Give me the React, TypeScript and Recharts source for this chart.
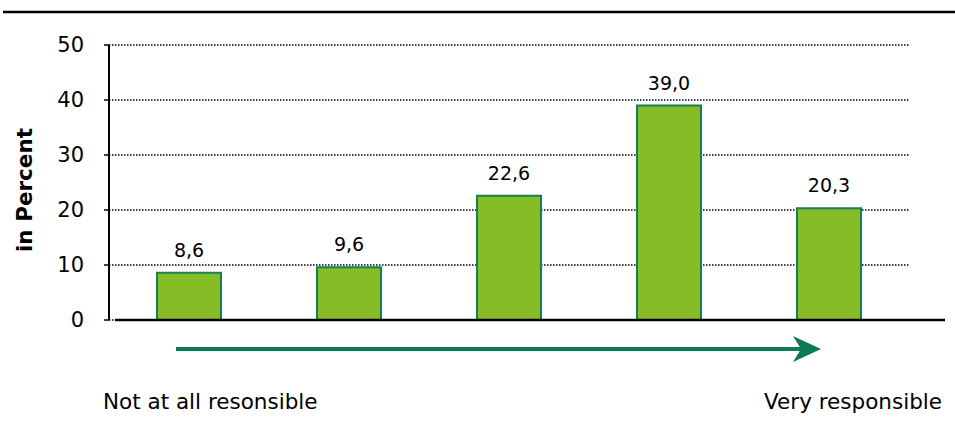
import React from "react";
import { BarChart, Bar, XAxis, YAxis, CartesianGrid, LabelList } from "recharts";

// categories on the responsibility scale (1 = not at all, 5 = very)
const categories = ["1", "2", "3", "4", "5"];
const shares = [8.6, 9.6, 22.6, 39.0, 20.3];
const yTicks = [0, 10, 20, 30, 40, 50];
const leftCaption = "Not at all resonsible";
const rightCaption = "Very responsible";

const data = categories.map((c, i) => ({ name: c, value: shares[i] }));

const fmt = (v: any) => Number(v).toFixed(1).replace(".", ",");

const FONT = "'DejaVu Sans', Verdana, sans-serif";
const ARROW = "#0B7A55";

export default function App() {
  return (
    <div
      style={{
        position: "absolute",
        left: 0,
        top: 0,
        width: 955,
        height: 432,
        fontFamily: FONT,
        background: "#fff",
      }}
    >
      <BarChart
        width={955}
        height={432}
        data={data}
        margin={{ top: 45, right: 46, bottom: 112, left: 60 }}
        barCategoryGap="30%"
      >
        <CartesianGrid
          vertical={false}
          stroke="#000"
          strokeDasharray="1.5 1.5"
          strokeWidth={1.6}
        />
        <XAxis dataKey="name" hide />
        <YAxis
          width={49}
          domain={[0, 50]}
          ticks={yTicks}
          interval={0}
          axisLine={{ stroke: "#000", strokeWidth: 2 }}
          tickLine={{ stroke: "#000", strokeWidth: 1.5 }}
          tickSize={5}
          tickMargin={20}
          tick={{ fill: "#000", fontSize: 21, fontFamily: FONT }}
          label={{
            content: () => (
              <text
                transform="translate(32,190) rotate(-90)"
                textAnchor="middle"
                fontSize={21.5}
                fontWeight="bold"
                fontFamily={FONT}
                fill="#000"
              >
                in Percent
              </text>
            ),
          }}
        />
        <Bar
          dataKey="value"
          fill="#86BC25"
          stroke="#157F55"
          strokeWidth={2}
          isAnimationActive={false}
        >
          <LabelList
            dataKey="value"
            position="top"
            offset={16}
            formatter={fmt}
            style={{ fill: "#000", fontSize: 19, fontFamily: FONT }}
          />
        </Bar>
      </BarChart>
      <svg
        width={955}
        height={432}
        style={{ position: "absolute", left: 0, top: 0, pointerEvents: "none" }}
      >
        <line x1={3} y1={12} x2={955} y2={12} stroke="#000" strokeWidth={2.5} />
        <line x1={115} y1={320} x2={945} y2={320} stroke="#000" strokeWidth={2.5} />
        <line x1={176} y1={349} x2={805} y2={349} stroke={ARROW} strokeWidth={4} />
        <polygon points="793,336 821,349 793,362 801,349" fill={ARROW} />
        <text x={103} y={409} fontSize={21.5} fontFamily={FONT} fill="#000">
          {leftCaption}
        </text>
        <text x={942} y={409} fontSize={21.5} fontFamily={FONT} fill="#000" textAnchor="end">
          {rightCaption}
        </text>
      </svg>
    </div>
  );
}
